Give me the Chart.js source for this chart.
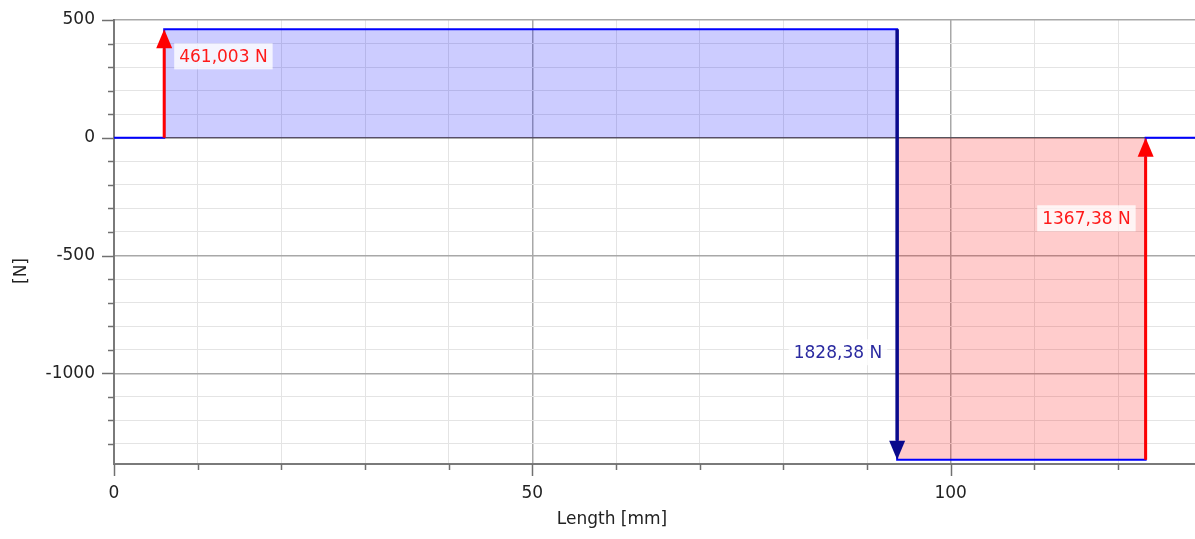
<!DOCTYPE html>
<html>
<head>
<meta charset="utf-8">
<script src="https://cdn.jsdelivr.net/npm/chart.js@4"></script>
<style>
html, body { margin: 0; padding: 0; background: #fff; }
</style>
</head>
<body>
<canvas id="shearChart" width="1195" height="539"></canvas>
<script>
// shear force diagram along the beam
const xPos  = [0, 6, 6, 93.6, 93.6, 123.3, 123.3, 129.2];
const shear = [0, 0, 461.003, 461.003, -1367.38, -1367.38, 0, 0];

// point loads drawn as arrows
const forceX      = [6, 93.6, 123.3];
const forceFrom   = [0, 461.003, -1367.38];
const forceTo     = [461.003, -1367.38, 0];
const forceLabels = ['461,003 N', '1828,38 N', '1367,38 N'];
const forceColors = ['#ff0000', '#0a0a8c', '#ff0000'];
const forceWidths = [3, 3.5, 3];
const labelColors = ['#ff1a1a', '#2a2aa0', '#ff1a1a'];
const labelSide   = ['right', 'left', 'left'];

// labelled ticks
const xTicks = [0, 50, 100];
const yTicks = [500, 0, -500, -1000];

const FONT = 'DejaVu Sans';
Chart.defaults.font.family = FONT;
Chart.defaults.font.size = 17;
Chart.defaults.color = '#222';

const overlay = {
  id: 'overlay',
  afterDatasetsDraw(chart) {
    const { ctx, scales: { x, y } } = chart;
    ctx.save();
    forceX.forEach((fx, i) => {
      const px = x.getPixelForValue(fx);
      const p0 = y.getPixelForValue(forceFrom[i]);
      const p1 = y.getPixelForValue(forceTo[i]);
      const dir = p1 < p0 ? -1 : 1;
      const head = 19, hw = 8;
      ctx.strokeStyle = forceColors[i];
      ctx.fillStyle = forceColors[i];
      ctx.lineWidth = forceWidths[i];
      ctx.beginPath();
      ctx.moveTo(px, p0);
      ctx.lineTo(px, p1 - dir * head);
      ctx.stroke();
      ctx.beginPath();
      ctx.moveTo(px, p1);
      ctx.lineTo(px - hw, p1 - dir * head);
      ctx.lineTo(px + hw, p1 - dir * head);
      ctx.closePath();
      ctx.fill();

      // label a quarter of the way back from the tip
      const ly = p1 - dir * 0.25 * Math.abs(p1 - p0);
      ctx.font = '17px ' + FONT;
      const w = ctx.measureText(forceLabels[i]).width;
      const pad = 5, h = 26;
      const bx = labelSide[i] === 'right' ? px + 10 : px - 10 - w - 2 * pad;
      ctx.fillStyle = 'rgba(255,255,255,0.78)';
      ctx.fillRect(bx, ly - h / 2, w + 2 * pad, h);
      ctx.fillStyle = labelColors[i];
      ctx.textBaseline = 'middle';
      ctx.textAlign = 'left';
      ctx.fillText(forceLabels[i], bx + pad, ly + 1);
    });
    ctx.restore();
  },
  afterDraw(chart) {
    const { ctx, scales: { x, y } } = chart;
    ctx.save();
    // tick marks, long for labelled ones
    ctx.strokeStyle = '#707070';
    ctx.lineWidth = 1.5;
    x.ticks.forEach(t => {
      const px = Math.round(x.getPixelForValue(t.value)) + 0.5;
      const len = xTicks.includes(t.value) ? 12 : 6;
      ctx.beginPath();
      ctx.moveTo(px, y.bottom);
      ctx.lineTo(px, y.bottom + len);
      ctx.stroke();
    });
    y.ticks.forEach(t => {
      const py = Math.round(y.getPixelForValue(t.value)) + 0.5;
      const len = yTicks.includes(t.value) ? 12 : 6;
      ctx.beginPath();
      ctx.moveTo(x.left - len, py);
      ctx.lineTo(x.left, py);
      ctx.stroke();
    });
    // axis titles
    ctx.fillStyle = '#222';
    ctx.font = '17px ' + FONT;
    ctx.textAlign = 'center';
    ctx.textBaseline = 'middle';
    ctx.fillText('Length [mm]', 612, 520);
    ctx.translate(22, 271);
    ctx.rotate(-Math.PI / 2);
    ctx.fillText('[N]', 0, 0);
    ctx.restore();
  }
};

new Chart(document.getElementById('shearChart'), {
  type: 'line',
  data: {
    datasets: [{
      label: 'Shear',
      data: xPos.map((v, i) => ({ x: v, y: shear[i] })),
      borderColor: '#0000ff',
      borderWidth: 2,
      pointRadius: 0,
      tension: 0,
      fill: { target: 'origin', above: 'rgba(0,0,255,0.2)', below: 'rgba(255,0,0,0.2)' }
    }]
  },
  options: {
    responsive: false,
    devicePixelRatio: 1,
    animation: false,
    layout: { padding: { top: 20, right: 0, left: 0, bottom: 0 } },
    plugins: { legend: { display: false }, tooltip: { enabled: false } },
    scales: {
      x: {
        type: 'linear',
        min: 0,
        max: 129.2,
        afterFit(scale) { scale.height = 75; },
        ticks: {
          stepSize: 10,
          includeBounds: false,
          autoSkip: false,
          maxRotation: 0,
          padding: 7,
          callback: v => xTicks.includes(v) ? String(v) : ''
        },
        grid: {
          color: c => xTicks.includes(c.tick.value) ? '#a8a8a8' : '#e4e4e4',
          lineWidth: c => xTicks.includes(c.tick.value) ? 1.5 : 1,
          drawTicks: true,
          tickLength: 12,
          tickColor: 'rgba(0,0,0,0)'
        },
        border: { display: true, color: '#7a7a7a', width: 2 }
      },
      y: {
        min: -1385,
        max: 500,
        afterFit(scale) { scale.width = 114; },
        ticks: {
          stepSize: 100,
          includeBounds: false,
          autoSkip: false,
          padding: 7,
          callback: v => yTicks.includes(v) ? String(v) : ''
        },
        grid: {
          color: c => c.tick.value === 0 ? '#5a5a5a' : (yTicks.includes(c.tick.value) ? '#a8a8a8' : '#e4e4e4'),
          lineWidth: c => yTicks.includes(c.tick.value) ? 1.5 : 1,
          drawTicks: true,
          tickLength: 12,
          tickColor: 'rgba(0,0,0,0)'
        },
        border: { display: true, color: '#7a7a7a', width: 2 }
      }
    }
  },
  plugins: [overlay]
});
</script>
</body>
</html>
